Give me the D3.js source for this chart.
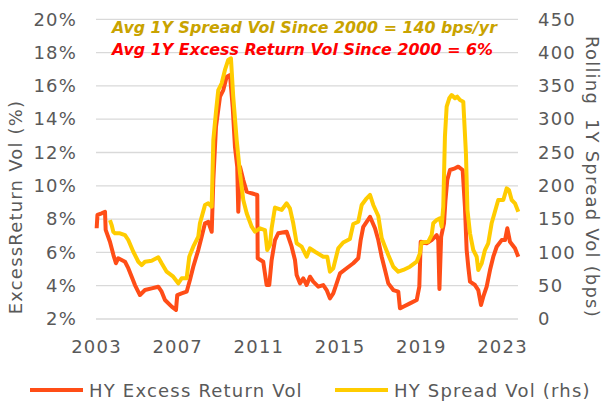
<!DOCTYPE html>
<html>
<head>
<meta charset="utf-8">
<script src="https://cdn.jsdelivr.net/npm/d3@7"></script>
<style>
  html, body { margin: 0; padding: 0; background: #fff; }
  svg { display: block; }
  text { font-family: "DejaVu Sans", sans-serif; }
</style>
</head>
<body>
<svg id="chart" width="606" height="404"></svg>
<script>
// HY excess return volatility (%, left axis)
const erDates = ["2003-01-13","2003-01-27","2003-04-13","2003-06-12","2003-06-24","2003-09-09","2003-10-10","2003-11-11","2003-12-26","2004-02-05","2004-06-06","2004-08-04","2004-10-04","2004-12-02","2005-03-02","2005-05-31","2005-09-28","2006-01-25","2006-03-27","2006-05-26","2006-09-24","2006-12-10","2007-01-02","2007-03-22","2007-06-20","2007-08-18","2007-10-17","2008-01-15","2008-03-16","2008-05-15","2008-07-13","2008-09-13","2008-10-12","2008-11-29","2009-02-09","2009-04-09","2009-06-09","2009-08-08","2009-09-25","2009-11-05","2009-12-16","2010-01-04","2010-02-04","2010-04-04","2010-06-04","2010-09-02","2010-12-12","2010-12-19","2011-03-29","2011-05-29","2011-07-15","2011-08-27","2011-10-26","2011-12-24","2012-05-23","2012-08-21","2012-10-20","2012-11-19","2013-01-18","2013-03-18","2013-05-18","2013-07-17","2013-09-14","2013-12-13","2014-03-13","2014-05-13","2014-07-11","2014-09-09","2014-11-09","2015-01-08","2015-05-08","2015-09-04","2015-12-03","2016-01-15","2016-03-02","2016-07-01","2016-09-29","2016-11-27","2017-01-27","2017-03-28","2017-05-26","2017-08-24","2017-11-22","2017-12-22","2018-02-19","2018-06-20","2018-10-19","2018-12-05","2018-12-30","2019-04-16","2019-07-15","2019-10-13","2019-11-11","2019-12-02","2020-01-02","2020-02-22","2020-03-20","2020-04-21","2020-06-09","2020-09-07","2020-11-05","2021-01-23","2021-03-05","2021-04-05","2021-05-04","2021-06-04","2021-09-02","2021-10-31","2021-12-19","2022-01-29","2022-03-31","2022-05-30","2022-07-28","2022-09-27","2022-12-26","2023-02-24","2023-04-06","2023-05-24","2023-08-22","2023-10-21"];
const erValues = [7.45,8.25,8.35,8.44,7.35,6.64,6.25,5.84,5.35,5.65,5.44,5.05,4.54,4.04,3.44,3.74,3.84,3.94,3.64,3.14,2.74,2.54,3.44,3.54,3.64,4.34,5.14,6.14,6.94,7.75,7.84,7.24,10.35,13.55,15.35,15.75,16.55,16.65,14.75,12.35,11.15,8.44,11.15,10.35,9.65,9.55,9.45,5.65,5.44,4.04,4.04,5.54,6.74,7.15,7.24,6.34,5.54,4.64,4.14,4.44,4.04,4.54,4.24,3.94,4.04,3.74,3.24,3.54,4.14,4.74,5.05,5.35,5.65,6.74,7.54,8.14,7.45,6.74,5.74,4.94,4.14,3.74,3.64,2.64,2.74,2.94,3.14,3.94,6.64,6.55,6.74,7.04,6.74,3.80,6.94,7.75,9.15,10.35,10.95,11.05,11.15,10.95,8.74,6.14,5.14,4.24,4.04,3.74,2.84,3.34,3.94,4.94,5.74,6.34,6.74,6.74,7.45,6.64,6.25,5.74];

// HY rolling 1Y spread volatility (bps, right axis)
const svDates = ["2003-09-09","2003-10-10","2003-11-08","2003-12-08","2004-03-07","2004-06-06","2004-08-04","2004-11-02","2005-02-01","2005-04-02","2005-05-31","2005-09-28","2006-01-25","2006-03-27","2006-06-25","2006-10-22","2007-01-20","2007-03-22","2007-06-20","2007-08-06","2007-10-17","2008-01-15","2008-02-14","2008-05-15","2008-07-13","2008-09-13","2008-10-12","2008-11-29","2009-01-09","2009-03-11","2009-05-09","2009-07-07","2009-08-25","2009-10-05","2009-12-06","2010-02-04","2010-04-04","2010-06-04","2010-09-02","2010-10-31","2011-01-29","2011-04-29","2011-06-09","2011-07-28","2011-08-27","2011-10-26","2012-02-23","2012-05-23","2012-07-21","2012-09-19","2012-11-19","2013-02-17","2013-05-18","2013-07-17","2013-10-15","2014-03-13","2014-05-24","2014-07-11","2014-09-09","2014-12-08","2015-03-07","2015-07-05","2015-09-04","2015-12-03","2016-02-02","2016-05-02","2016-07-01","2016-08-29","2016-11-27","2017-01-27","2017-03-28","2017-05-26","2017-08-24","2017-11-22","2018-02-19","2018-06-20","2018-10-19","2018-12-17","2019-01-16","2019-05-15","2019-07-15","2019-08-13","2019-10-13","2019-12-11","2020-01-11","2020-02-09","2020-03-10","2020-04-10","2020-05-27","2020-07-09","2020-09-07","2020-10-18","2020-12-06","2021-02-03","2021-03-23","2021-04-19","2021-06-04","2021-08-02","2021-10-02","2021-10-31","2022-01-01","2022-02-28","2022-04-28","2022-06-28","2022-08-26","2022-10-25","2023-01-24","2023-03-26","2023-05-06","2023-06-24","2023-08-22","2023-10-21"];
const svValues = [148.6,141,131,128.7,128.7,126,118.6,101,86,81,86,87.5,92.6,83.6,71,63.5,53.6,61.1,61.1,93.5,108.6,123.6,143.7,171,173.7,168.6,268.8,311.3,343.8,353.9,373.9,388.9,391.4,333.8,268.8,218.8,178.8,158.7,138.6,131.1,136.2,133.6,103.6,111.1,136.2,167.4,163.7,173.7,166.2,143.7,113.7,108.6,93.5,106.2,101,93.5,93.5,71,76.1,106.2,114.9,120.1,142.6,146.1,171.2,181.2,186.2,171.2,154.7,121.6,108.6,96.1,78.5,71,73.6,78.5,86,98.7,114.9,116.1,126.1,143.7,148.6,151.2,138.6,168.6,273.7,318.8,331.4,336.3,331.4,333.8,328.8,326.3,248.8,163.7,128.7,103.6,93.5,73.6,83.6,103.6,113.7,143.7,161.1,178.7,178.7,196.2,193.7,178.7,173.7,161.1];

// Axis ticks
const leftTicks = [2, 4, 6, 8, 10, 12, 14, 16, 18, 20];
const rightTicks = [0, 50, 100, 150, 200, 250, 300, 350, 400, 450];
const yearTicks = [2003, 2007, 2011, 2015, 2019, 2023];

// Text
const note1 = "Avg 1Y Spread Vol Since 2000 = 140 bps/yr";
const note2 = "Avg 1Y Excess Return Vol Since 2000 = 6%";
const leftTitle = "ExcessReturn Vol (%)";
const rightTitle = "Rolling  1Y Spread Vol (bps)";
const seriesNames = ["HY Excess Return Vol", "HY Spread Vol (rhs)"];

const ORANGE = "#FF4D17";
const YELLOW = "#FFCC00";
const GREY = "#595959";
const SPACING = "1.2px";

const parse = d3.timeParse("%Y-%m-%d");
const er = erDates.map((d, i) => ({ date: parse(d), value: erValues[i] }));
const sv = svDates.map((d, i) => ({ date: parse(d), value: svValues[i] }));

const plot = { left: 96, right: 518, top: 19.3, bottom: 319 };

const x = d3.scaleTime()
  .domain([new Date(2003, 0, 1), new Date(2024, 0, 1)])
  .range([plot.left, plot.left + 21 * 20.3]);
const yL = d3.scaleLinear().domain([2, 20]).range([plot.bottom, plot.top]);
const yR = d3.scaleLinear().domain([0, 450]).range([plot.bottom, plot.top]);

const svg = d3.select("#chart");

// Horizontal gridlines
svg.append("g")
  .selectAll("line")
  .data(leftTicks)
  .join("line")
  .attr("x1", plot.left)
  .attr("x2", plot.right)
  .attr("y1", d => yL(d))
  .attr("y2", d => yL(d))
  .attr("stroke", "#D9D9D9")
  .attr("stroke-width", 1.3);

// Axes
const axisLeft = svg.append("g")
  .attr("transform", `translate(${plot.left},0)`)
  .call(d3.axisLeft(yL).tickValues(leftTicks).tickFormat(d => d + "%").tickSize(0).tickPadding(19));
const axisRight = svg.append("g")
  .attr("transform", `translate(${plot.right},0)`)
  .call(d3.axisRight(yR).tickValues(rightTicks).tickFormat(d3.format("d")).tickSize(0).tickPadding(20));
const axisBottom = svg.append("g")
  .attr("transform", `translate(0,${plot.bottom})`)
  .call(d3.axisBottom(x).tickValues(yearTicks.map(y => new Date(y, 0, 1))).tickFormat(d3.timeFormat("%Y")).tickSize(0));

[axisLeft, axisRight, axisBottom].forEach(g => {
  g.select(".domain").remove();
  g.selectAll("text")
    .attr("fill", GREY)
    .style("font-size", "18px")
    .style("letter-spacing", SPACING)
    .style("font-family", "'DejaVu Sans', sans-serif");
});
axisBottom.selectAll("text").attr("y", 34).attr("dy", null);

// Axis titles
svg.append("text")
  .attr("transform", "translate(22,207) rotate(-90)")
  .attr("text-anchor", "middle")
  .attr("fill", GREY)
  .style("font-size", "18px")
  .style("letter-spacing", SPACING)
  .text(leftTitle);

svg.append("text")
  .attr("transform", "translate(586,177) rotate(90)")
  .attr("text-anchor", "middle")
  .attr("fill", GREY)
  .style("font-size", "18px")
  .style("letter-spacing", SPACING)
  .style("white-space", "pre")
  .text(rightTitle);

// Series
const lineER = d3.line().x(d => x(d.date)).y(d => yL(d.value));
const lineSV = d3.line().x(d => x(d.date)).y(d => yR(d.value));

svg.append("path")
  .datum(er)
  .attr("d", lineER)
  .attr("fill", "none")
  .attr("stroke", ORANGE)
  .attr("stroke-width", 4)
  .attr("stroke-linejoin", "round");

svg.append("path")
  .datum(sv)
  .attr("d", lineSV)
  .attr("fill", "none")
  .attr("stroke", YELLOW)
  .attr("stroke-width", 4)
  .attr("stroke-linejoin", "round");

// Notes
svg.append("text")
  .attr("x", 112).attr("y", 33)
  .attr("fill", "#C9A300")
  .style("font-size", "16px").style("font-weight", "bold").style("font-style", "italic")
  .attr("textLength", 385).attr("lengthAdjust", "spacingAndGlyphs")
  .text(note1);
svg.append("text")
  .attr("x", 112).attr("y", 55)
  .attr("fill", "#FF0000")
  .style("font-size", "16px").style("font-weight", "bold").style("font-style", "italic")
  .attr("textLength", 381).attr("lengthAdjust", "spacingAndGlyphs")
  .text(note2);

// Legend
const legend = svg.append("g");
const legendItems = [
  { name: seriesNames[0], color: ORANGE, x: 30 },
  { name: seriesNames[1], color: YELLOW, x: 335 }
];
legend.selectAll("line")
  .data(legendItems)
  .join("line")
  .attr("x1", d => d.x).attr("x2", d => d.x + 53)
  .attr("y1", 390).attr("y2", 390)
  .attr("stroke", d => d.color)
  .attr("stroke-width", 4);
legend.selectAll("text")
  .data(legendItems)
  .join("text")
  .attr("x", d => d.x + 59)
  .attr("y", 396.5)
  .attr("fill", GREY)
  .style("font-size", "18px")
  .style("letter-spacing", SPACING)
  .text(d => d.name);
</script>
</body>
</html>
